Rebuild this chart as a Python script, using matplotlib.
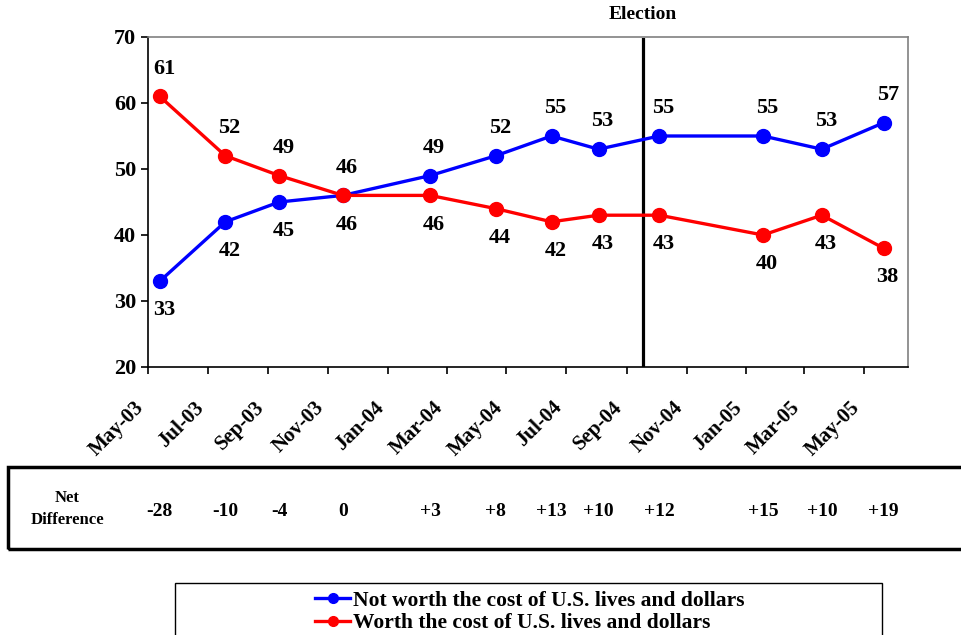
import datetime as dt
import matplotlib
matplotlib.use('Agg')
from matplotlib import pyplot as plt
import matplotlib.dates as mdates
from matplotlib.patches import Rectangle
from matplotlib.lines import Line2D
from matplotlib.transforms import blended_transform_factory

plt.rcParams['font.family'] = ['Liberation Serif', 'DejaVu Serif']
plt.rcParams['font.weight'] = 'bold'

# 调查日期(由图上位置估读)
dates = [dt.date(2003, 5, 13), dt.date(2003, 7, 19), dt.date(2003, 9, 12),
         dt.date(2003, 11, 16), dt.date(2004, 2, 13), dt.date(2004, 4, 20),
         dt.date(2004, 6, 16), dt.date(2004, 8, 3), dt.date(2004, 10, 4),
         dt.date(2005, 1, 18), dt.date(2005, 3, 19), dt.date(2005, 5, 21)]
not_worth = [33, 42, 45, 46, 49, 52, 55, 53, 55, 55, 53, 57]
worth     = [61, 52, 49, 46, 46, 44, 42, 43, 43, 40, 43, 38]
net_diff  = ['-28', '-10', '-4', '0', '+3', '+8', '+13', '+10', '+12', '+15', '+10', '+19']
election  = dt.date(2004, 9, 17)

label_not = 'Not worth the cost of U.S. lives and dollars'
label_yes = 'Worth the cost of U.S. lives and dollars'

fig = plt.figure(figsize=(9.61, 6.35), dpi=100)
ax = fig.add_axes([148/961, 1 - 367/635, 760/961, 330/635])

ax.plot(dates, not_worth, color='#0000ff', lw=2.4, marker='o', ms=10, zorder=3)
ax.plot(dates, worth, color='#ff0000', lw=2.4, marker='o', ms=10, zorder=4)

# 数据标签: 高的在上, 低的在下
for i, d in enumerate(dates):
    b, r = not_worth[i], worth[i]
    b_up = b > r
    ax.annotate(str(b), (d, b), xytext=(3, 20 if b_up else -21),
                textcoords='offset points', ha='center', va='center', fontsize=16)
    ax.annotate(str(r), (d, r), xytext=(3, -21 if b_up else 20),
                textcoords='offset points', ha='center', va='center', fontsize=16)

ax.axvline(election, color='black', lw=2.3, ymax=0.995, zorder=2)
ax.text(election, 73.4, 'Election', ha='center', va='center', fontsize=14)

ax.set_ylim(20, 70)
ax.set_yticks(range(20, 71, 10))
ax.set_xlim(dt.date(2003, 5, 1), dt.date(2005, 6, 15))
ax.xaxis.set_major_locator(mdates.MonthLocator(bymonth=[1, 3, 5, 7, 9, 11]))
ax.xaxis.set_major_formatter(mdates.DateFormatter('%b-%y'))
plt.setp(ax.get_xticklabels(), rotation=45, ha='right', fontsize=15)
plt.setp(ax.get_yticklabels(), fontsize=16)
ax.tick_params(axis='both', direction='out', length=5, width=1.2, colors='black')
ax.tick_params(axis='x', pad=17)
ax.spines['top'].set_color('#808080')
ax.spines['right'].set_color('#808080')
for s in ax.spines.values():
    s.set_linewidth(1.2)

# 净差值栏
fig.patches.append(Rectangle((8/961, 1 - 549/635), 1.0, 82/635, transform=fig.transFigure,
                             fill=False, lw=2.5, edgecolor='black'))
fig.text(67/961, 1 - 498/635, 'Net', ha='center', va='center', fontsize=12)
fig.text(67/961, 1 - 520/635, 'Difference', ha='center', va='center', fontsize=12)
trans = blended_transform_factory(ax.transData, fig.transFigure)
for d, s in zip(dates, net_diff):
    ax.text(d, 1 - 511/635, s, transform=trans, ha='center', va='center', fontsize=14, clip_on=False)

# 图例
fig.patches.append(Rectangle((175/961, -0.01), 707/961, 0.01 + 52/635, transform=fig.transFigure,
                             fill=False, lw=1.0, edgecolor='black'))
handles = [Line2D([], [], color='#0000ff', lw=2.4, marker='o', ms=7),
           Line2D([], [], color='#ff0000', lw=2.4, marker='o', ms=7)]
fig.legend(handles, [label_not, label_yes], loc='upper center', bbox_to_anchor=(530/961, 1 - 580/635),
           frameon=False, fontsize=15.5, handlelength=1.6, handletextpad=0.15, labelspacing=0.12,
           borderpad=0)

fig.savefig('out.png', dpi=100)
